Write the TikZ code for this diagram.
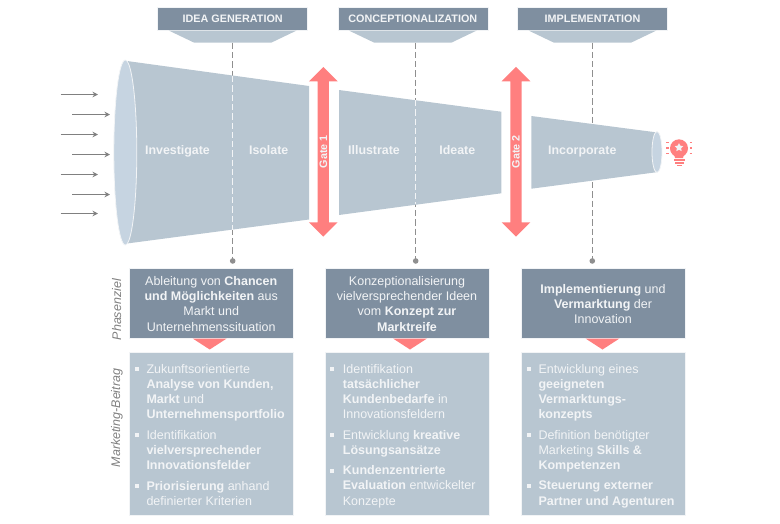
\documentclass[tikz,border=0pt]{standalone}
\usepackage{fontspec}
\setmainfont{Liberation Sans}
\usetikzlibrary{positioning,arrows.meta,shapes.geometric,shapes.arrows}
\definecolor{slatedark}{HTML}{7F8FA0}
\definecolor{slatelight}{HTML}{B8C6D1}
\definecolor{mouthblue}{HTML}{C6D4E1}
\definecolor{gatered}{HTML}{FF7F7F}
\definecolor{softwhite}{HTML}{F2F4F6}
\definecolor{dashgray}{HTML}{8F8F8F}
\newcommand{\goalstrut}{\rule{0pt}{11pt}}
\tikzset{
  x=1pt,y=-1pt,
  headbox/.style={fill=slatedark,draw=softwhite,line width=.5pt,minimum width=150pt,minimum height=22.5pt,inner sep=0pt,text=softwhite,text height=8pt,text depth=0pt,font=\fontsize{10.8}{13}\selectfont\bfseries},
  dashline/.style={draw=dashgray,line width=1.4pt,dash pattern=on 6.3pt off 3pt,-{Circle[length=5.5pt,fill=dashgray]}},
  funneldash/.style={draw=softwhite,line width=1.4pt,dash pattern=on 6.3pt off 3pt},
  funneltext/.style={text=softwhite,text height=9pt,text depth=3pt,font=\fontsize{12.4}{15}\selectfont\bfseries,inner sep=0pt},
  gatearrow/.style={double arrow,double arrow head extend=6.3pt,fill=gatered,minimum height=169.7pt,minimum width=28.7pt,inner sep=0pt,rotate=90,text=softwhite,font=\fontsize{10.8}{12}\selectfont\bfseries},
  inarrow/.style={draw=gray,line width=1.2pt,-{Stealth[length=5.5pt,width=5.5pt]}},
  goalbox/.style={fill=slatedark,draw=softwhite,line width=.5pt,minimum width=164.5pt,minimum height=69.5pt,inner sep=0pt,align=center,text=softwhite,font=\fontsize{12.5}{15.1}\selectfont},
  workbox/.style={fill=slatelight,draw=softwhite,line width=.5pt,minimum width=164.5pt,minimum height=163pt,inner sep=0pt},
  sidetext/.style={rotate=90,text=gray,inner sep=0pt,font=\fontsize{12.5}{15}\selectfont\itshape},
  worktext/.style={anchor=north west,align=left,inner sep=0pt,text=softwhite,font=\fontsize{12.5}{15.2}\selectfont},
  bulmark/.style={fill=softwhite,minimum size=4pt,inner sep=0pt},
  bulbred/.style={fill=gatered,draw=none},
  raydash/.style={draw=gatered,line width=1.2pt}
}
\begin{document}
\begin{tikzpicture}
  \useasboundingbox (0,0) rectangle (780,523);

  % phase headers
  \node (hIdea) [headbox] at (232.7,18.7) {IDEA GENERATION};
  \node (hConc) [headbox,right=29.6pt of hIdea] {CONCEPTIONALIZATION};
  \node (hImpl) [headbox,right=29.2pt of hConc] {IMPLEMENTATION};
  \foreach \hh in {hIdea,hConc,hImpl}
    \fill[slatelight] ([xshift=-64pt,yshift=-.3pt]\hh.south) -- ([xshift=64pt,yshift=-.3pt]\hh.south) -- ([xshift=38.5pt,yshift=-12.5pt]\hh.south) -- ([xshift=-38.5pt,yshift=-12.5pt]\hh.south) -- cycle;
  \coordinate (tIdea) at ([yshift=-12.5pt]hIdea.south);

  \coordinate (dotIdea) at (232.7,263.7);
  \coordinate (dotConc) at (415.7,263.7);
  \coordinate (dotImpl) at (592.3,263.7);
  \coordinate (topConc) at (415.7,42.5);
  \coordinate (topImpl) at (592.3,42.5);
  \draw[dashline] (tIdea) -- (dotIdea);
  \draw[dashline] (topConc) -- (dotConc);
  \draw[dashline] (topImpl) -- (dotImpl);

  % funnel
  \fill[slatelight] (127,61) -- (309,86) -- (309,219.5) -- (127,243.5) -- cycle;
  \fill[slatelight] (339,90) -- (501.3,111.7) -- (501.3,193.3) -- (339,215) -- cycle;
  \fill[slatelight] (531.3,116) -- (656,132.3) -- (656,172.3) -- (531.3,188.7) -- cycle;
  \node (mouth) [ellipse,fill=mouthblue,draw=softwhite,line width=.8pt,minimum width=23pt,minimum height=185pt,inner sep=0pt] at (125.3,152.5) {};
  \node (outlet) [ellipse,fill=mouthblue,draw=softwhite,line width=.8pt,minimum width=10pt,minimum height=41pt,inner sep=0pt] at (657,152) {};

  \coordinate (fa) at (232.7,76);
  \coordinate (fb) at (232.7,230);
  \coordinate (fc) at (415.7,100);
  \coordinate (fd) at (415.7,204);
  \draw[funneldash] (fa) -- (fb);
  \draw[funneldash] (fc) -- (fd);

  \node (investigate) [funneltext] at (177.5,151.8) {Investigate};
  \node (isolate) [funneltext] at (268.7,151.8) {Isolate};
  \node (illustrate) [funneltext] at (374,151.8) {Illustrate};
  \node (ideate) [funneltext] at (457.3,151.8) {Ideate};
  \node (incorporate) [funneltext] at (582.3,151.8) {Incorporate};

  % gates
  \node (gate1) [gatearrow] at (323.3,151.8) {Gate 1};
  \node (gate2) [gatearrow] at (516,151.8) {Gate 2};

  % incoming arrows
  \foreach \yy/\xa/\xb [count=\i] in {94.5/60.7/98,114.5/72/110,134.5/60.7/98,154.5/72/110,174.5/60.7/98,194.5/72/110,213.5/60.7/98}{
    \coordinate (inS\i) at (\xa,\yy);
    \coordinate (inE\i) at (\xb,\yy);
    \draw[inarrow] (inS\i) -- (inE\i);
  }

  % idea bulb
  \node (bulb) [circle,bulbred,minimum size=18pt,inner sep=0pt] at (679,148.3) {};
  \fill[bulbred] (674,154) -- (684,154) -- (683,158) -- (675,158) -- cycle;
  \fill[bulbred] (673.5,159) rectangle (684.5,160.7);
  \fill[bulbred] (674.5,162) rectangle (683.5,163.7);
  \fill[bulbred] (676.5,164.6) rectangle (681.5,165.8);
  \node (flower) [star,star points=5,star point ratio=2,fill=softwhite,minimum size=9pt,inner sep=0pt] at (679,147.5) {};
  \foreach \yy in {142.5,148,153.5}{
    \draw[raydash] (666,\yy) -- (668.5,\yy);
    \draw[raydash] (689.5,\yy) -- (692,\yy);
  }

  % goal boxes
  \node (goalA) [goalbox] at (211.2,303) {\goalstrut Ableitung von \textbf{Chancen}\\ \textbf{und Möglichkeiten} aus\\ Markt und\\ Unternehmenssituation};
  \node (goalB) [goalbox] at (407,303) {\goalstrut Konzeptionalisierung\\ vielversprechender Ideen\\ vom \textbf{Konzept zur}\\ \textbf{Marktreife}};
  \node (goalC) [goalbox] at (603,303) {\goalstrut\textbf{Implementierung} und\\ \textbf{Vermarktung} der\\ Innovation};

  \foreach \xx in {209.7,410,602.5}
    \fill[gatered] (\xx-17,338.5) -- (\xx+17,338.5) -- (\xx,349.5) -- cycle;

  % contribution boxes
  \node (workA) [workbox] at (211.2,434.2) {};
  \node (workB) [workbox] at (407,434.2) {};
  \node (workC) [workbox] at (603,434.2) {};

  \node (sideGoal) [sidetext] at (116.7,309.7) {Phasenziel};
  \node (sideWork) [sidetext] at (117,418) {Marketing-Beitrag};

  \node (a1) [worktext] at (146.3,364) {Zukunftsorientierte\\ \textbf{Analyse von Kunden,}\\ \textbf{Markt} und\\ \textbf{Unternehmensportfolio}};
  \node (a2) [worktext] at (146.3,430) {Identifikation\\ \textbf{vielversprechender}\\ \textbf{Innovationsfelder}};
  \node (a3) [worktext] at (146.3,481) {\textbf{Priorisierung} anhand\\ definierter Kriterien};
  \node (b1) [worktext] at (342.7,364) {Identifikation\\ \textbf{tatsächlicher}\\ \textbf{Kundenbedarfe} in\\ Innovationsfeldern};
  \node (b2) [worktext] at (342.7,430) {Entwicklung \textbf{kreative}\\ \textbf{Lösungsansätze}};
  \node (b3) [worktext] at (342.7,465.5) {\textbf{Kundenzentrierte}\\ \textbf{Evaluation} entwickelter\\ Konzepte};
  \node (c1) [worktext] at (538.3,364) {Entwicklung eines\\ \textbf{geeigneten}\\ \textbf{Vermarktungs-}\\ \textbf{konzepts}};
  \node (c2) [worktext] at (538.3,430) {Definition benötigter\\ Marketing \textbf{Skills \&}\\ \textbf{Kompetenzen}};
  \node (c3) [worktext] at (538.3,481) {\textbf{Steuerung externer}\\ \textbf{Partner und Agenturen}};

  \foreach \nn/\xx/\yy in {ma1/136.7/369,ma2/136.7/435,ma3/136.7/486,mb1/332.3/369,mb2/332.3/435,mb3/332.3/471,mc1/529/369,mc2/529/435,mc3/529/486}
    \node (\nn) [bulmark] at (\xx,\yy) {};
\end{tikzpicture}
\end{document}
